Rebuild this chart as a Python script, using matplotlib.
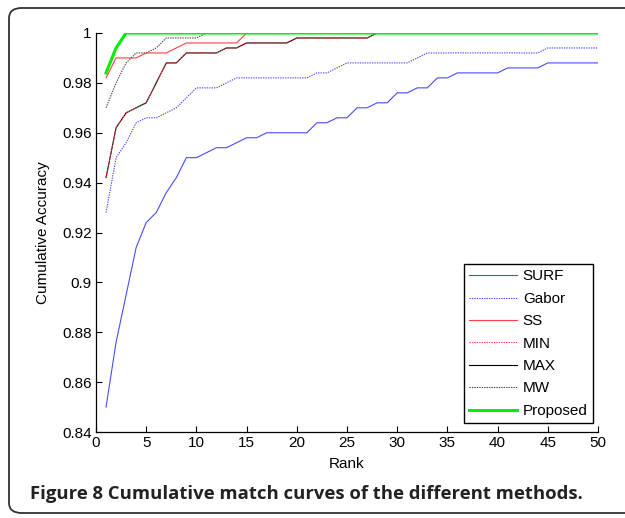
import numpy as np
import matplotlib
matplotlib.use("Agg")
import matplotlib.pyplot as plt
from matplotlib.patches import FancyBboxPatch

plt.rcParams['font.family'] = ['Liberation Sans', 'DejaVu Sans']

rank = np.arange(1, 51)

surf = [0.850, 0.876, 0.895, 0.914, 0.924, 0.928, 0.936, 0.942, 0.950, 0.950,
        0.952, 0.954, 0.954, 0.956, 0.958, 0.958, 0.960, 0.960, 0.960, 0.960,
        0.960, 0.964, 0.964, 0.966, 0.966, 0.970, 0.970, 0.972, 0.972, 0.976,
        0.976, 0.978, 0.978, 0.982, 0.982, 0.984, 0.984, 0.984, 0.984, 0.984,
        0.986, 0.986, 0.986, 0.986, 0.988, 0.988, 0.988, 0.988, 0.988, 0.988]
gabor = [0.928, 0.950, 0.956, 0.964, 0.966, 0.966, 0.968, 0.970, 0.974, 0.978,
         0.978, 0.978, 0.980, 0.982, 0.982, 0.982, 0.982, 0.982, 0.982, 0.982,
         0.982, 0.984, 0.984, 0.986, 0.988, 0.988, 0.988, 0.988, 0.988, 0.988,
         0.988, 0.990, 0.992, 0.992, 0.992, 0.992, 0.992, 0.992, 0.992, 0.992,
         0.992, 0.992, 0.992, 0.992, 0.994, 0.994, 0.994, 0.994, 0.994, 0.994]
ss = [0.982, 0.990, 0.990, 0.990, 0.992, 0.992, 0.992, 0.994, 0.996, 0.996,
      0.996, 0.996, 0.996, 0.996] + [1.0] * 36
maxv = [0.942, 0.962, 0.968, 0.970, 0.972, 0.980, 0.988, 0.988, 0.992, 0.992,
        0.992, 0.992, 0.994, 0.994, 0.996, 0.996, 0.996, 0.996, 0.996, 0.998,
        0.998, 0.998, 0.998, 0.998, 0.998, 0.998, 0.998] + [1.0] * 23
minv = list(maxv)
mw = [0.970, 0.980, 0.988, 0.992, 0.992, 0.994, 0.998, 0.998, 0.998, 0.998] + [1.0] * 40
proposed = [0.984, 0.994] + [1.0] * 48

series_labels = ['SURF', 'Gabor', 'SS', 'MIN', 'MAX', 'MW', 'Proposed']

yticks = [0.84, 0.86, 0.88, 0.9, 0.92, 0.94, 0.96, 0.98, 1.0]
ytick_labels = ['0.84', '0.86', '0.88', '0.9', '0.92', '0.94', '0.96', '0.98', '1']
xticks = [0, 5, 10, 15, 20, 25, 30, 35, 40, 45, 50]

fig = plt.figure(figsize=(6.25, 5.18), dpi=100)
W, H = 625, 518
ax = fig.add_axes([96 / W, 1 - 432 / H, (598 - 96) / W, (432 - 33) / H])

dot = (0, (1.2, 1.0))
lw = 0.8
blue = '#4a4aff'
red = '#ff4040'
ax.plot(rank, surf, color=blue, lw=lw, ls='-', label='SURF')
ax.plot(rank, gabor, color=blue, lw=lw, ls=dot, label='Gabor')
ax.plot(rank, ss, color=red, lw=lw, ls='-', label='SS')
ax.plot(rank, maxv, color='#000000', lw=lw, ls='-', label='MAX', zorder=2.1)
ax.plot(rank, minv, color=red, lw=lw, ls=dot, label='MIN', zorder=2.2)
ax.plot(rank, mw, color='#444444', lw=lw, ls=dot, label='MW')
ax.plot(rank, proposed, color='#00ee00', lw=2.2, ls='-', label='Proposed', zorder=3)

ax.set_xlim(0, 50)
ax.set_ylim(0.84, 1.0)
ax.set_xticks(xticks)
ax.set_yticks(yticks)
ax.set_yticklabels(ytick_labels)
ax.tick_params(direction='in', length=4, width=0.8, labelsize=11, pad=3,
               top=False, right=False)
for s in ['top', 'right']:
    ax.spines[s].set_visible(False)
for s in ['left', 'bottom']:
    ax.spines[s].set_linewidth(0.9)
ax.set_xlabel('Rank', fontsize=11, labelpad=5)
ax.set_ylabel('Cumulative Accuracy', fontsize=11, labelpad=9)

handles, labels = ax.get_legend_handles_labels()
hmap = dict(zip(labels, handles))
leg = ax.legend([hmap[k] for k in series_labels], series_labels,
                loc='lower right', bbox_to_anchor=(0.99, 0.022),
                fontsize=11, frameon=True, fancybox=False, framealpha=1,
                edgecolor='black', handlelength=3.1, labelspacing=0.55,
                handletextpad=0.4, borderpad=0.35, borderaxespad=0)
leg.get_frame().set_linewidth(1.0)

frame = FancyBboxPatch((9 / W, 1 - 513 / H), 640 / W, (513 - 8) / H,
                       boxstyle='round,pad=0,rounding_size=0.02',
                       transform=fig.transFigure, fill=False,
                       edgecolor='#333333', lw=1.3, clip_on=False)
fig.patches.append(frame)

fig.text(30 / W, 1 - 494 / H, 'Figure 8 Cumulative match curves of the different methods.',
         fontsize=13.3, fontweight='bold', family=['Open Sans', 'DejaVu Sans'],
         color='#222222', va='center', ha='left')

fig.savefig('out.png', dpi=100)
